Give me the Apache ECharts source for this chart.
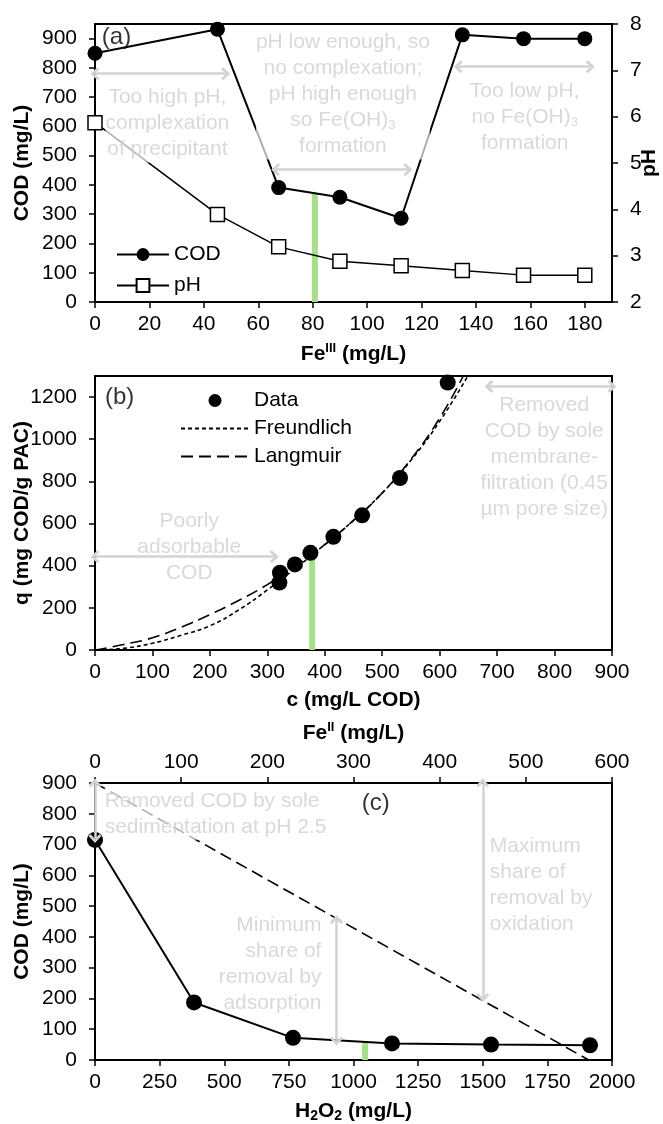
<!DOCTYPE html>
<html lang="en">
<head>
<meta charset="UTF-8">
<title>COD removal: Fe(III), PAC, Fenton</title>
<style>
  html, body { margin: 0; padding: 0; background: #fff; }
  #chart { width: 663px; height: 1124px; }
</style>
</head>
<body>
<div id="chart"></div>
<script src="https://cdn.jsdelivr.net/npm/echarts@6.0.0/dist/echarts.min.js"></script>
<script>
// (a) Fe(III) dosing
const feIII = [0, 45, 67.5, 90, 112.5, 135, 157.5, 180];
const codA = [850, 932, 391, 358, 286, 913, 900, 900];
const phA = [5.87, 3.89, 3.19, 2.88, 2.78, 2.68, 2.58, 2.58];
const greenA = [80.8, 373];            // x, top of the green bar

// (b) PAC adsorption isotherm
const cB = [321, 322, 348, 375, 415, 465, 531, 614];
const qB = [320, 367, 406, 461, 537, 639, 816, 1269];
const freundC = [0, 50, 100, 150, 200, 250, 300, 350, 400, 450, 500, 550, 600, 649];
const freundQ = [0, 8, 32, 70, 115, 190, 285, 390, 500, 615, 745, 900, 1085, 1300];
const langC = [0, 50, 100, 150, 200, 250, 300, 350, 400, 450, 500, 550, 600, 641];
const langQ = [0, 26, 58, 108, 168, 235, 310, 400, 500, 615, 745, 905, 1100, 1300];
const greenB = [378, 465];

// (c) Fenton
const h2o2 = [0, 383, 766, 1149, 1532, 1915];
const codC = [715, 187, 72, 54, 50, 48];
const maxLineC = [[0, 900], [1910, 0]];
const greenC = [1045, 58];

// annotation arrows [x1, y1, x2, y2]
const arrowsA = [[0, 780, 48, 780], [66.4, 452, 115, 452], [133.5, 804, 182, 804]];
const arrowsB = [[0, 443, 312, 443], [686, 1250, 900, 1250]];
const arrowsC = [[0, 900, 0, 720], [1500, 900, 1500, 203], [934, 456, 934, 62]];

const font = 'Liberation Sans, Arial, sans-serif';
const fs = 21;
const grey = '#d0d0d0';
const green = '#a6df8b';
const chevron = 'path://M10,0 L20,10 L17,13 L10,6 L3,13 L0,10 Z';

const rich = {
  b: { fontWeight: 'bold', fontSize: fs, fontFamily: font, color: '#000' },
  sup: { fontWeight: 'bold', fontSize: 13, fontFamily: font, color: '#000', padding: [0, 0, 12, 0] },
  bs: { fontWeight: 'bold', fontSize: 14, fontFamily: font, color: '#000', padding: [9, 0, 0, 0] },
  g: { fontSize: fs, fontFamily: font, color: grey, lineHeight: 26 },
  gs: { fontSize: 13, fontFamily: font, color: grey, padding: [9, 0, 0, 0], lineHeight: 26 }
};

function axis(o) {
  return Object.assign({
    type: 'value',
    nameLocation: 'middle',
    nameMoveOverlap: false,
    nameTextStyle: { fontWeight: 'bold', fontSize: fs, fontFamily: font, color: '#000', rich: rich },
    axisLine: { show: true, onZero: false, lineStyle: { color: '#000', width: 2 } },
    axisTick: { show: true, inside: false, length: 6, lineStyle: { color: '#000', width: 1.5 } },
    axisLabel: {
      color: '#000', fontSize: fs, fontFamily: font, margin: o.margin || 12,
      showMaxLabel: o.showMax !== false, formatter: v => String(v)
    },
    splitLine: { show: false }
  }, o);
}

function notes(list) {
  return list.map(n => ({
    value: [n[0], n[1]],
    label: Object.assign({ formatter: n[2] }, n[3] || {})
  }));
}

function arrows(list) {
  return {
    silent: true,
    animation: false,
    symbol: [chevron, chevron],
    symbolSize: [13, 9],
    lineStyle: { color: '#d3d3d3', width: 2.5, type: 'solid' },
    label: { show: false },
    emphasis: { disabled: true },
    data: list.map(a => [{ coord: [a[0], a[1]] }, { coord: [a[2], a[3]] }])
  };
}

const noteLabel = {
  show: true, position: 'inside', color: grey, fontSize: fs, fontFamily: font,
  lineHeight: 26, align: 'center', verticalAlign: 'middle',
  backgroundColor: 'rgba(255,255,255,0.85)', rich: rich
};
const panelTag = { color: '#000', backgroundColor: 'transparent', fontSize: 24 };

const chart = echarts.init(document.getElementById('chart'));
chart.setOption({
  animation: false,
  backgroundColor: '#fff',
  textStyle: { fontFamily: font },
  grid: [
    { left: 95, top: 24, width: 517, height: 278, show: true, borderColor: '#000', borderWidth: 2, outerBoundsMode: 'none' },
    { left: 95, top: 376, width: 517, height: 274, show: true, borderColor: '#000', borderWidth: 2, outerBoundsMode: 'none' },
    { left: 95, top: 783, width: 517, height: 277, show: true, borderColor: '#000', borderWidth: 2, outerBoundsMode: 'none' }
  ],
  xAxis: [
    axis({ gridIndex: 0, min: 0, max: 190, interval: 20, showMax: false,
      name: '{b|Fe}{sup|III}{b| (mg/L)}', nameGap: 40 }),
    axis({ gridIndex: 1, min: 0, max: 900, interval: 100, name: 'c (mg/L COD)', nameGap: 40 }),
    axis({ gridIndex: 2, min: 0, max: 2000, interval: 250,
      name: '{b|H}{bs|2}{b|O}{bs|2}{b| (mg/L)}', nameGap: 40 }),
    axis({ gridIndex: 2, position: 'top', min: 0, max: 600, interval: 100, margin: 10,
      name: '{b|Fe}{sup|II}{b| (mg/L)}', nameGap: 37 })
  ],
  yAxis: [
    axis({ gridIndex: 0, min: 0, max: 950, interval: 100, showMax: false, margin: 18,
      name: 'COD (mg/L)', nameRotate: 90, nameGap: 62 }),
    axis({ gridIndex: 0, position: 'right', min: 2, max: 8, interval: 1, margin: 18,
      name: 'pH', nameRotate: 90, nameGap: 27 }),
    axis({ gridIndex: 1, min: 0, max: 1300, interval: 200, showMax: false, margin: 18,
      name: 'q (mg COD/g PAC)', nameRotate: 90, nameGap: 62 }),
    axis({ gridIndex: 2, min: 0, max: 900, interval: 100, margin: 18,
      name: 'COD (mg/L)', nameRotate: 90, nameGap: 62 })
  ],
  legend: [
    {
      data: ['COD', 'pH'], orient: 'vertical', left: 111, top: 239,
      itemWidth: 52, itemHeight: 16, itemGap: 10, selectedMode: false,
      textStyle: { fontSize: fs, fontFamily: font, color: '#000' }
    },
    {
      data: ['Data',
        { name: 'Freundlich', itemStyle: { opacity: 0, color: 'rgba(0,0,0,0)', borderWidth: 0 } },
        { name: 'Langmuir', itemStyle: { opacity: 0, color: 'rgba(0,0,0,0)', borderWidth: 0 } }],
      orient: 'vertical', left: 175, top: 385,
      itemWidth: 68, itemHeight: 13, itemGap: 7, selectedMode: false,
      textStyle: { fontSize: fs, fontFamily: font, color: '#000' }
    }
  ],
  series: [
    // ---- (a)
    {
      type: 'line', xAxisIndex: 0, yAxisIndex: 0, silent: true, z: 1, symbol: 'none',
      data: [[greenA[0], 0], [greenA[0], greenA[1]]],
      lineStyle: { color: green, width: 6 }
    },
    {
      name: 'COD', type: 'line', xAxisIndex: 0, yAxisIndex: 0, z: 3,
      data: feIII.map((x, i) => [x, codA[i]]),
      symbol: 'circle', symbolSize: 15,
      itemStyle: { color: '#000' }, lineStyle: { color: '#000', width: 2 }
    },
    {
      name: 'pH', type: 'line', xAxisIndex: 0, yAxisIndex: 1, z: 3,
      data: feIII.map((x, i) => [x, phA[i]]),
      symbol: 'rect', symbolSize: 14,
      itemStyle: { color: '#fff', borderColor: '#000', borderWidth: 1.5 },
      lineStyle: { color: '#000', width: 1.5 }
    },
    {
      type: 'scatter', xAxisIndex: 0, yAxisIndex: 0, z: 4, silent: true,
      symbolSize: 1, itemStyle: { color: 'rgba(0,0,0,0)' }, label: noteLabel,
      data: notes([
        [7.9, 906, '(a)', panelTag],
        [26.6, 610, 'Too high pH,\ncomplexation\nof precipitant'],
        [91.1, 709, 'pH low enough, so\nno complexation;\npH high enough\n{g|so Fe(OH)}{gs|3}\nformation'],
        [157.9, 630, 'Too low pH,\n{g|no Fe(OH)}{gs|3}\nformation']
      ]),
      markLine: arrows(arrowsA)
    },
    // ---- (b)
    {
      type: 'line', xAxisIndex: 1, yAxisIndex: 2, silent: true, z: 1, symbol: 'none',
      data: [[greenB[0], 0], [greenB[0], greenB[1]]],
      lineStyle: { color: green, width: 6 }
    },
    {
      name: 'Freundlich', type: 'line', xAxisIndex: 1, yAxisIndex: 2, z: 2, symbol: 'none', smooth: true,
      data: freundC.map((x, i) => [x, freundQ[i]]),
      lineStyle: { color: '#000', width: 1.6, type: [4, 3] }
    },
    {
      name: 'Langmuir', type: 'line', xAxisIndex: 1, yAxisIndex: 2, z: 2, symbol: 'none', smooth: true,
      data: langC.map((x, i) => [x, langQ[i]]),
      lineStyle: { color: '#000', width: 1.6, type: [12, 6] }
    },
    {
      name: 'Data', type: 'scatter', xAxisIndex: 1, yAxisIndex: 2, z: 3,
      data: cB.map((x, i) => [x, qB[i]]),
      symbol: 'circle', symbolSize: 16, itemStyle: { color: '#000', opacity: 1 }
    },
    {
      type: 'scatter', xAxisIndex: 1, yAxisIndex: 2, z: 4, silent: true,
      symbolSize: 1, itemStyle: { color: 'rgba(0,0,0,0)' }, label: noteLabel,
      data: notes([
        [43, 1200, '(b)', panelTag],
        [164, 488, 'Poorly\nadsorbable\nCOD'],
        [782, 913, 'Removed\nCOD by sole\nmembrane-\nfiltration (0.45\nµm pore size)']
      ]),
      markLine: arrows(arrowsB)
    },
    // ---- (c)
    {
      type: 'line', xAxisIndex: 2, yAxisIndex: 3, silent: true, z: 1, symbol: 'none',
      data: [[greenC[0], 0], [greenC[0], greenC[1]]],
      lineStyle: { color: green, width: 6 }
    },
    {
      type: 'line', xAxisIndex: 2, yAxisIndex: 3, silent: true, z: 2, symbol: 'none',
      data: maxLineC,
      lineStyle: { color: '#000', width: 1.6, type: [12, 6] }
    },
    {
      type: 'line', xAxisIndex: 2, yAxisIndex: 3, z: 3,
      data: h2o2.map((x, i) => [x, codC[i]]),
      symbol: 'circle', symbolSize: 16,
      itemStyle: { color: '#000' }, lineStyle: { color: '#000', width: 2 }
    },
    {
      type: 'scatter', xAxisIndex: 2, yAxisIndex: 3, z: 4, silent: true,
      symbolSize: 1, itemStyle: { color: 'rgba(0,0,0,0)' }, label: noteLabel,
      data: notes([
        [1086, 835, '(c)', panelTag],
        [37.5, 800, 'Removed COD by sole\nsedimentation at pH 2.5', { align: 'left' }],
        [1527, 569, 'Maximum\nshare of\nremoval by\noxidation', { align: 'left', backgroundColor: 'transparent' }],
        [876, 312, 'Minimum\nshare of\nremoval by\nadsorption', { align: 'right', backgroundColor: 'transparent' }]
      ]),
      markLine: arrows(arrowsC)
    }
  ]
});
</script>
</body>
</html>
